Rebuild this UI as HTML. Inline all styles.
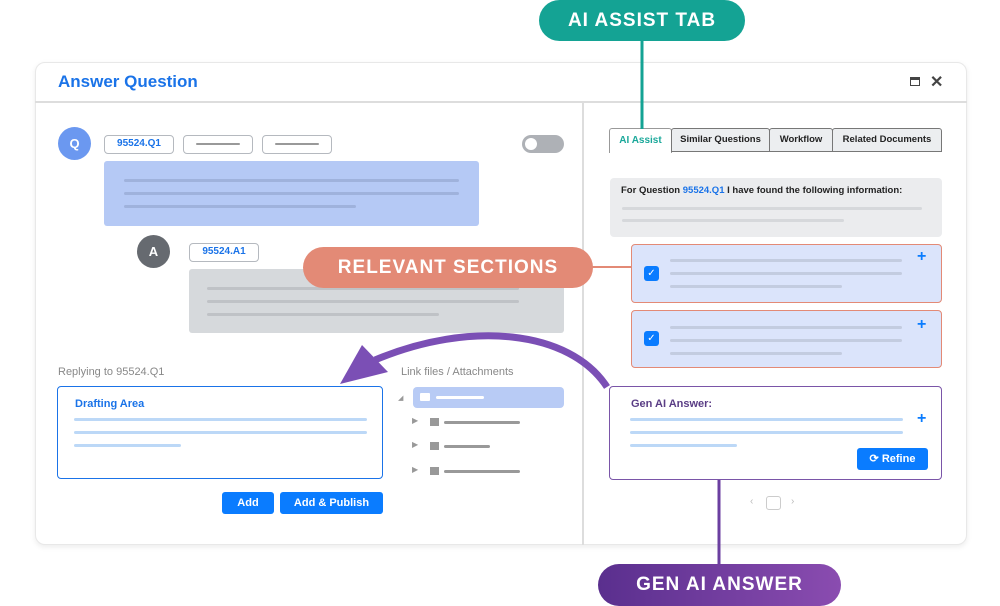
<!DOCTYPE html>
<html><head><style>
body{margin:0;width:1000px;height:606px;background:#fff;position:relative;overflow:hidden;font-family:"Liberation Sans",sans-serif}
.a{position:absolute;box-sizing:border-box}
.ln{position:absolute;height:3px;border-radius:2px}
.pill{position:absolute;box-sizing:border-box;border:1.5px solid #b5b9bf;border-radius:4px;background:#fff;font-size:10px;font-weight:bold;color:#1a73e8;text-align:center;line-height:16px}
.tab{position:absolute;box-sizing:border-box;border:1.5px solid #777;background:#eceef0;font-size:9.5px;font-weight:bold;color:#222;text-align:center;line-height:21px;height:24px;top:128px;border-radius:3px 3px 0 0}
.btn{position:absolute;background:#0a7cff;color:#fff;font-size:11px;font-weight:bold;text-align:center;border-radius:3px;line-height:22px;height:22px}
</style></head><body>
<div class="a" style="left:35px;top:62px;width:932px;height:483px;border:1px solid #e8e8e8;border-radius:10px;box-shadow:0 2px 6px rgba(0,0,0,.08);background:#fff"></div>
<div class="a" style="left:58px;top:72px;font-size:17px;font-weight:bold;color:#1a73e8">Answer Question</div>
<div class="a" style="left:910px;top:77px;width:10px;height:9px;border:1.5px solid #444;border-top-width:3px"></div>
<div class="a" style="left:930px;top:72px;font-size:16px;color:#444;font-weight:bold">✕</div>
<div class="a" style="left:35px;top:101px;width:932px;height:2px;background:#ddd"></div>
<div class="a" style="left:582px;top:103px;width:1.5px;height:442px;background:#ddd"></div>

<div class="a" style="left:58px;top:127px;width:33px;height:33px;border-radius:50%;background:#6b98f0;color:#fff;font-weight:bold;font-size:13px;text-align:center;line-height:33px">Q</div>
<div class="pill" style="left:104px;top:135px;width:70px;height:19px">95524.Q1</div>
<div class="pill" style="left:183px;top:135px;width:70px;height:19px"><div class="ln" style="left:12px;top:7px;width:44px;height:2px;background:#999"></div></div>
<div class="pill" style="left:262px;top:135px;width:70px;height:19px"><div class="ln" style="left:12px;top:7px;width:44px;height:2px;background:#999"></div></div>
<div class="a" style="left:522px;top:135px;width:42px;height:18px;border-radius:9px;background:#aeb1b6"></div>
<div class="a" style="left:525px;top:138px;width:12px;height:12px;border-radius:50%;background:#fff"></div>
<div class="a" style="left:104px;top:161px;width:375px;height:65px;background:#b5c9f5;border-radius:3px"></div>
<div class="ln" style="left:124px;top:179px;width:335px;background:#9fb2dc"></div>
<div class="ln" style="left:124px;top:192px;width:335px;background:#9fb2dc"></div>
<div class="ln" style="left:124px;top:205px;width:232px;background:#9fb2dc"></div>

<div class="a" style="left:137px;top:235px;width:33px;height:33px;border-radius:50%;background:#666a70;color:#fff;font-weight:bold;font-size:13px;text-align:center;line-height:33px">A</div>
<div class="pill" style="left:189px;top:243px;width:70px;height:19px">95524.A1</div>
<div class="a" style="left:189px;top:269px;width:375px;height:64px;background:#d6d9dc;border-radius:3px"></div>
<div class="ln" style="left:207px;top:287px;width:312px;background:#bfc2c6"></div>
<div class="ln" style="left:207px;top:300px;width:312px;background:#bfc2c6"></div>
<div class="ln" style="left:207px;top:313px;width:232px;background:#bfc2c6"></div>

<div class="a" style="left:58px;top:366px;font-size:11px;color:#888">Replying to 95524.Q1</div>
<div class="a" style="left:57px;top:386px;width:326px;height:93px;border:1.5px solid #1a73e8;border-radius:4px"></div>
<div class="a" style="left:75px;top:398px;font-size:11px;font-weight:bold;color:#1a73e8">Drafting Area</div>
<div class="ln" style="left:74px;top:418px;width:293px;background:#bcd8f7"></div>
<div class="ln" style="left:74px;top:431px;width:293px;background:#bcd8f7"></div>
<div class="ln" style="left:74px;top:444px;width:107px;background:#bcd8f7"></div>
<div class="btn" style="left:222px;top:492px;width:52px">Add</div>
<div class="btn" style="left:280px;top:492px;width:103px">Add &amp; Publish</div>

<div class="a" style="left:401px;top:366px;font-size:11px;color:#888">Link files / Attachments</div>
<div class="a" style="left:398px;top:394px;font-size:7px;color:#999">◢</div>
<div class="a" style="left:413px;top:387px;width:151px;height:21px;background:#b8cbf5;border-radius:4px"></div>
<div class="a" style="left:420px;top:393px;width:10px;height:8px;background:#fff;border-radius:1px"></div>
<div class="ln" style="left:436px;top:396px;width:48px;background:#fff"></div>
<div class="a" style="left:412px;top:416px;font-size:8px;color:#999">▶</div><div class="a" style="left:430px;top:418px;width:9px;height:8px;background:#999"></div><div class="ln" style="left:444px;top:421px;width:76px;background:#999"></div>
<div class="a" style="left:412px;top:440px;font-size:8px;color:#999">▶</div><div class="a" style="left:430px;top:442px;width:9px;height:8px;background:#999"></div><div class="ln" style="left:444px;top:445px;width:46px;background:#999"></div>
<div class="a" style="left:412px;top:465px;font-size:8px;color:#999">▶</div><div class="a" style="left:430px;top:467px;width:9px;height:8px;background:#999"></div><div class="ln" style="left:444px;top:470px;width:76px;background:#999"></div>

<!-- right -->
<div class="a" style="left:609px;top:128px;width:63px;height:25px;border:1.5px solid #999;border-bottom:none;background:#fff;border-radius:3px 3px 0 0;font-size:10px;font-weight:bold;color:#1aa89a;text-align:center;line-height:24px">AI Assist</div>
<div class="tab" style="left:671px;width:99px">Similar Questions</div>
<div class="tab" style="left:769px;width:64px">Workflow</div>
<div class="tab" style="left:832px;width:110px">Related Documents</div>
<div class="a" style="left:610px;top:178px;width:332px;height:59px;background:#ebecee;border-radius:4px"></div>
<div class="a" style="left:621px;top:185px;font-size:9.5px;font-weight:bold;color:#222">For Question <span style="color:#1a73e8">95524.Q1</span> I have found the following information:</div>
<div class="ln" style="left:622px;top:207px;width:300px;background:#d6d8db"></div>
<div class="ln" style="left:622px;top:219px;width:222px;background:#d6d8db"></div>

<div class="a" style="left:631px;top:244px;width:311px;height:59px;background:#dbe4fb;border:1.5px solid #e38a76;border-radius:4px"></div>
<div class="a" style="left:644px;top:266px;width:15px;height:15px;background:#0a7cff;border-radius:3px;color:#fff;font-size:10px;text-align:center;line-height:15px">✓</div>
<div class="ln" style="left:670px;top:259px;width:232px;background:#c3cce0"></div>
<div class="ln" style="left:670px;top:272px;width:232px;background:#c3cce0"></div>
<div class="ln" style="left:670px;top:285px;width:172px;background:#c3cce0"></div>
<div class="a" style="left:917px;top:248px;font-size:16px;font-weight:bold;color:#0a7cff">+</div>
<div class="a" style="left:631px;top:310px;width:311px;height:58px;background:#dbe4fb;border:1.5px solid #e38a76;border-radius:4px"></div>
<div class="a" style="left:644px;top:331px;width:15px;height:15px;background:#0a7cff;border-radius:3px;color:#fff;font-size:10px;text-align:center;line-height:15px">✓</div>
<div class="ln" style="left:670px;top:326px;width:232px;background:#c3cce0"></div>
<div class="ln" style="left:670px;top:339px;width:232px;background:#c3cce0"></div>
<div class="ln" style="left:670px;top:352px;width:172px;background:#c3cce0"></div>
<div class="a" style="left:917px;top:316px;font-size:16px;font-weight:bold;color:#0a7cff">+</div>

<div class="a" style="left:609px;top:386px;width:333px;height:94px;border:1.5px solid #7a55a8;border-radius:4px"></div>
<div class="a" style="left:631px;top:398px;font-size:11px;font-weight:bold;color:#5a3d85">Gen AI Answer:</div>
<div class="ln" style="left:630px;top:418px;width:273px;background:#bcd8f7"></div>
<div class="ln" style="left:630px;top:431px;width:273px;background:#bcd8f7"></div>
<div class="ln" style="left:630px;top:444px;width:107px;background:#bcd8f7"></div>
<div class="a" style="left:917px;top:410px;font-size:16px;font-weight:bold;color:#0a7cff">+</div>
<div class="btn" style="left:857px;top:448px;width:71px">⟳ Refine</div>
<div class="a" style="left:750px;top:496px;font-size:10px;color:#bbb">‹</div>
<div class="a" style="left:766px;top:496px;width:15px;height:14px;border:1.5px solid #ccc;border-radius:3px"></div>
<div class="a" style="left:791px;top:496px;font-size:10px;color:#bbb">›</div>

<svg class="a" style="left:0;top:0" width="1000" height="606">
<line x1="642" y1="40" x2="642" y2="129" stroke="#14a394" stroke-width="3"/>
<line x1="590" y1="267" x2="632" y2="267" stroke="#e38a76" stroke-width="2"/>
<line x1="719" y1="480" x2="719" y2="568" stroke="#6b3fa0" stroke-width="3"/>
<path d="M607 387 C570 330 470 320 375 360" stroke="#7b4fb5" stroke-width="7" fill="none"/>
<polygon points="340,384 362,345 388,372" fill="#7b4fb5"/>
</svg>
<div class="a" style="left:539px;top:0;width:206px;height:41px;border-radius:21px;background:#14a394;color:#fff;font-size:19px;font-weight:bold;text-align:center;line-height:41px;letter-spacing:1px">AI ASSIST TAB</div>
<div class="a" style="left:303px;top:247px;width:290px;height:41px;border-radius:21px;background:#e38a76;color:#fff;font-size:19px;font-weight:bold;text-align:center;line-height:41px;letter-spacing:1px">RELEVANT SECTIONS</div>
<div class="a" style="left:598px;top:564px;width:243px;height:42px;border-radius:21px;background:linear-gradient(90deg,#5a2f8e,#8a4cb0);color:#fff;font-size:19px;font-weight:bold;text-align:center;line-height:42px;letter-spacing:1px">GEN AI ANSWER</div>
</body></html>
